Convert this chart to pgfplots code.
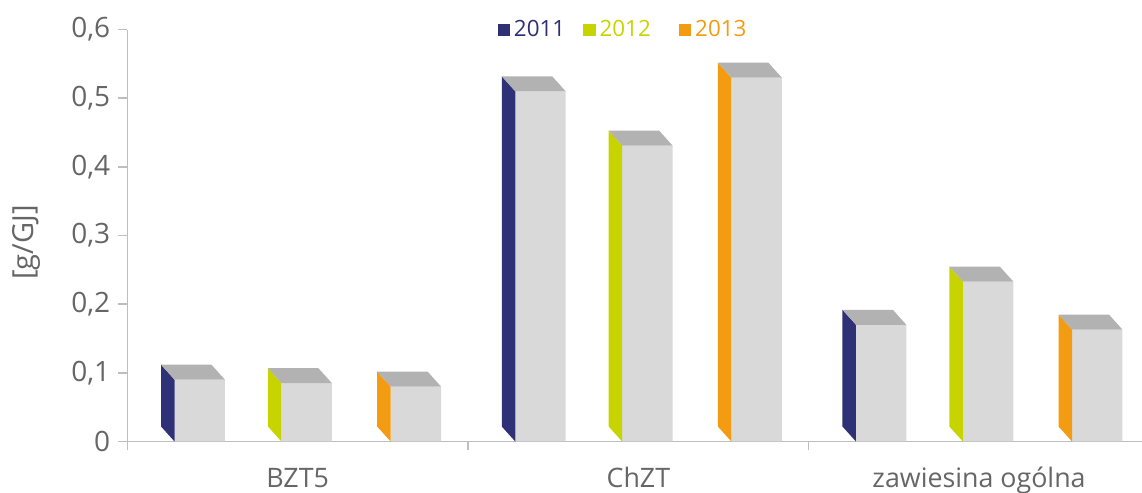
\documentclass[border=0pt]{standalone}
\usepackage{fontspec}
\setmainfont{Open Sans}
\usepackage{pgfplots}
\pgfplotsset{compat=1.18}
\usepackage{pgfplotstable}

\definecolor{navy}{HTML}{2E3176}
\definecolor{lime}{HTML}{C8D400}
\definecolor{orng}{HTML}{F39C12}
\definecolor{frontgray}{HTML}{D9D9D9}
\definecolor{topgray}{HTML}{B2B2B2}
\definecolor{axisgray}{HTML}{BEBEBE}
\definecolor{txtgray}{HTML}{666666}

% one table per year: category index (0 BZT5, 1 ChZT, 2 zawiesina), value [g/GJ]
\pgfplotstableread{
x y
0 0.090
1 0.510
2 0.170
}\dataA
\pgfplotstableread{
x y
0 0.085
1 0.431
2 0.233
}\dataB
\pgfplotstableread{
x y
0 0.080
1 0.530
2 0.163
}\dataC

% 1 px of the reference = 0.5 pt; y unit = 343.33 pt
\newcommand\defbarmark[2]{%
\pgfdeclareplotmark{#1}{%
  \pgfmathsetlengthmacro\bH{\barval*343.33pt}%
  \pgfmathsetlengthmacro\bL{#2-12.6pt}%
  \pgfmathsetlengthmacro\bR{#2+12.6pt}%
  \pgfpathmoveto{\pgfpoint{\bL}{0pt}}%
  \pgfpathlineto{\pgfpoint{\bL}{-\bH}}%
  \pgfpathlineto{\pgfpoint{\bL-6.75pt}{-\bH+7.5pt}}%
  \pgfpathlineto{\pgfpoint{\bL-6.75pt}{7.5pt}}%
  \pgfpathclose
  \pgfusepath{fill}%
  \pgfsetfillcolor{topgray}%
  \pgfpathmoveto{\pgfpoint{\bL}{0pt}}%
  \pgfpathlineto{\pgfpoint{\bR}{0pt}}%
  \pgfpathlineto{\pgfpoint{\bR-6.75pt}{7.5pt}}%
  \pgfpathlineto{\pgfpoint{\bL-6.75pt}{7.5pt}}%
  \pgfpathclose
  \pgfusepath{fill}%
}}
\defbarmark{barA}{-48.95pt}
\defbarmark{barB}{4.5pt}
\defbarmark{barC}{59.1pt}

\newcommand\legsq[2]{\textcolor{#1}{\rule{6.2pt}{6.2pt}\hspace{2pt}#2}}

\begin{document}
\begin{tikzpicture}
\begin{axis}[
  x=170.35pt, y=343.33pt,
  xmin=-0.5, xmax=2.5, ymin=0, ymax=0.6,
  axis x line=bottom, axis y line=left,
  axis line style={-, draw=axisgray, line width=0.7pt},
  x axis line style={-}, y axis line style={-},
  tick style={draw=axisgray, line width=0.7pt},
  tick align=outside,
  major tick length=4.5pt,
  xtick={-0.5,0.5,1.5},
  xticklabels={,,},
  extra x ticks={0,1,2},
  extra x tick labels={BZT5,ChZT,zawiesina ogólna},
  extra x tick style={major tick length=0pt},
  xticklabel style={font=\fontsize{13.4}{16}\selectfont, text=txtgray, anchor=base, yshift=-23pt},
  ytick={0,0.1,0.2,0.3,0.4,0.5,0.6},
  yticklabel style={font=\fontsize{14}{16}\selectfont, text=txtgray, xshift=-0.5pt,
     /pgf/number format/.cd, use comma, fixed, precision=1, assume math mode=true},
  every axis y label/.style={at={(axis description cs:0,0.483)}, xshift=-50.5pt, rotate=90, anchor=center},
  ylabel={[g/GJ]},
  ylabel style={font=\fontsize{14.5}{17}\selectfont, text=txtgray},
  legend style={at={(axis description cs:0.484,1.0)}, anchor=center, draw=none, fill=none,
     legend columns=3, font=\fontsize{11.2}{13}\selectfont,
     /tikz/column 1/.style={column sep=0pt},
     /tikz/column 2/.style={column sep=9pt},
     /tikz/column 3/.style={column sep=0pt},
     /tikz/column 4/.style={column sep=14pt},
     /tikz/column 5/.style={column sep=0pt},
     nodes={inner xsep=0pt}},
  legend image code/.code={},
  clip=false,
]
\path (axis cs:-0.5,0) coordinate (O);
% front faces
\addplot[ybar, bar width=25.2pt, bar shift=-48.95pt, fill=frontgray, draw=none, forget plot] table[x=x,y=y] {\dataA};
\addplot[ybar, bar width=25.2pt, bar shift=4.5pt, fill=frontgray, draw=none, forget plot] table[x=x,y=y] {\dataB};
\addplot[ybar, bar width=25.2pt, bar shift=59.1pt, fill=frontgray, draw=none, forget plot] table[x=x,y=y] {\dataC};
% side and top faces
\addplot[scatter, only marks, mark=barA, forget plot,
  visualization depends on={\thisrow{y} \as \barval},
  scatter/@pre marker code/.code={\pgfscope\pgfsetfillcolor{navy}},
  scatter/@post marker code/.code={\endpgfscope}] table[x=x,y=y] {\dataA};
\addplot[scatter, only marks, mark=barB, forget plot,
  visualization depends on={\thisrow{y} \as \barval},
  scatter/@pre marker code/.code={\pgfscope\pgfsetfillcolor{lime}},
  scatter/@post marker code/.code={\endpgfscope}] table[x=x,y=y] {\dataB};
\addplot[scatter, only marks, mark=barC, forget plot,
  visualization depends on={\thisrow{y} \as \barval},
  scatter/@pre marker code/.code={\pgfscope\pgfsetfillcolor{orng}},
  scatter/@post marker code/.code={\endpgfscope}] table[x=x,y=y] {\dataC};
\addlegendimage{empty legend}
\addlegendentry{\legsq{navy}{2011}}
\addlegendimage{empty legend}
\addlegendentry{\legsq{lime}{2012}}
\addlegendimage{empty legend}
\addlegendentry{\legsq{orng}{2013}}
\end{axis}
\pgfresetboundingbox
\useasboundingbox ([shift={(-63.65pt,-25.75pt)}]O) rectangle ([shift={(507.35pt,220.75pt)}]O);
\end{tikzpicture}
\end{document}
